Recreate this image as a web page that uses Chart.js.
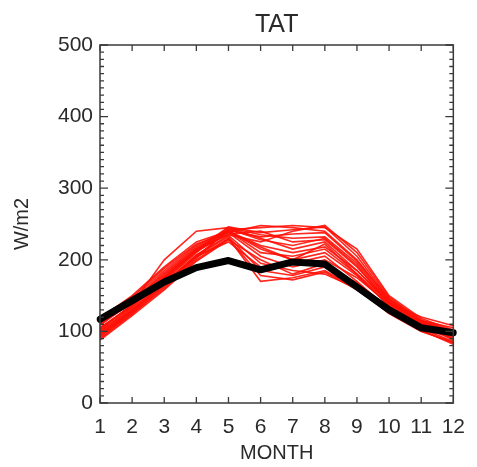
<!DOCTYPE html>
<html>
<head>
<meta charset="utf-8">
<script src="https://cdn.jsdelivr.net/npm/chart.js@4/dist/chart.umd.min.js"></script>
<style>
  html, body { margin: 0; padding: 0; background: #ffffff; }
  #wrap { width: 477px; height: 467px; }
</style>
</head>
<body>
<div id="wrap"><canvas id="c" width="477" height="467"></canvas></div>
<script>
// ---- data ----
const months = ['1','2','3','4','5','6','7','8','9','10','11','12'];
const yTickValues = [0, 100, 200, 300, 400, 500];
const chartTitle = 'TAT';
const xTitle = 'MONTH';
const yTitle = 'W/m2';

// ensemble mean (thick black)
const meanTAT = [117, 143, 169, 189, 199, 186, 197, 194, 162, 130, 105, 98];

// ensemble members (thin red)
const member01 = [95, 128, 165, 205, 240, 215, 200, 222, 180, 135, 108, 92];
const member02 = [100, 132, 170, 210, 245, 230, 215, 225, 185, 140, 110, 95];
const member03 = [105, 135, 172, 212, 238, 248, 245, 240, 200, 145, 112, 98];
const member04 = [110, 140, 178, 215, 235, 225, 240, 248, 210, 148, 115, 100];
const member05 = [92, 125, 160, 200, 230, 170, 175, 185, 160, 125, 100, 85];
const member06 = [98, 130, 168, 205, 225, 190, 195, 205, 170, 130, 105, 90];
const member07 = [112, 145, 185, 220, 242, 245, 248, 245, 215, 150, 118, 102];
const member08 = [88, 122, 158, 198, 228, 200, 180, 195, 165, 128, 102, 82];
const member09 = [102, 138, 200, 240, 245, 235, 230, 232, 195, 142, 112, 96];
const member10 = [108, 142, 182, 218, 240, 220, 210, 218, 185, 140, 113, 98];
const member11 = [115, 148, 188, 222, 238, 205, 190, 200, 175, 138, 115, 105];
const member12 = [95, 128, 166, 206, 232, 185, 178, 190, 168, 132, 108, 90];
const member13 = [100, 134, 174, 212, 236, 240, 225, 228, 190, 142, 112, 95];
const member14 = [118, 150, 190, 225, 240, 210, 205, 215, 180, 140, 120, 108];
const member15 = [90, 124, 162, 202, 243, 228, 220, 230, 192, 138, 110, 88];
const member16 = [105, 136, 175, 214, 246, 238, 242, 246, 205, 146, 116, 100];
const member17 = [97, 130, 167, 207, 234, 195, 185, 180, 160, 128, 104, 86];
const member18 = [110, 142, 180, 216, 239, 218, 200, 210, 178, 136, 112, 97];
const member19 = [93, 127, 164, 204, 229, 178, 172, 183, 158, 126, 101, 84];
const member20 = [103, 137, 176, 213, 241, 232, 236, 238, 198, 144, 114, 99];

const members = [member01, member02, member03, member04, member05, member06, member07,
  member08, member09, member10, member11, member12, member13, member14, member15,
  member16, member17, member18, member19, member20];

// ---- styles ----
const FONT = "'Liberation Sans', Arial, Helvetica, sans-serif";
const TEXT = '#2a2a2a';
const AXIS = '#3a3a3a';

const datasets = members.map((m, i) => ({
  label: 'member ' + (i + 1),
  data: m,
  borderColor: 'rgba(255, 15, 5, 0.9)',
  borderWidth: 1.6,
  pointRadius: 0,
  tension: 0,
  fill: false,
  order: 2
}));
datasets.push({
  label: 'mean',
  data: meanTAT,
  borderColor: '#000000',
  borderWidth: 7,
  pointRadius: 0,
  tension: 0,
  fill: false,
  borderJoinStyle: 'round',
  borderCapStyle: 'round',
  order: 1
});

// inward ticks + frame, in IDL style, positioned through the chart's scales
const frameTicks = {
  id: 'frameTicks',
  afterDraw(chart) {
    const { ctx, chartArea: a, scales } = chart;
    const xs = scales.x, ys = scales.y;
    ctx.save();
    ctx.strokeStyle = AXIS;
    ctx.lineWidth = 1.5;
    ctx.strokeRect(a.left, a.top, a.right - a.left, a.bottom - a.top);
    ctx.lineWidth = 1.3;
    ctx.beginPath();
    for (let i = 0; i < months.length; i++) {
      const px = xs.getPixelForValue(i);
      ctx.moveTo(px, a.bottom); ctx.lineTo(px, a.bottom - 6);
      ctx.moveTo(px, a.top); ctx.lineTo(px, a.top + 6);
    }
    const step = yTickValues[1] - yTickValues[0];
    const minorStep = step / 10;
    const yMax = yTickValues[yTickValues.length - 1];
    for (let v = yTickValues[0]; v <= yMax + 1e-6; v += minorStep) {
      const py = ys.getPixelForValue(v);
      const isMajor = Math.abs(v / step - Math.round(v / step)) < 1e-6;
      const len = isMajor ? 8 : 4;
      ctx.moveTo(a.left, py); ctx.lineTo(a.left + len, py);
      ctx.moveTo(a.right, py); ctx.lineTo(a.right - len, py);
    }
    ctx.stroke();
    ctx.restore();
  }
};

new Chart(document.getElementById('c'), {
  type: 'line',
  data: { labels: months, datasets },
  options: {
    responsive: false,
    animation: false,
    devicePixelRatio: 1,
    layout: { padding: { left: 0, right: 15, top: 0, bottom: 0 } },
    plugins: {
      legend: { display: false },
      tooltip: { enabled: false },
      title: {
        display: true,
        text: chartTitle,
        fullSize: false,
        color: TEXT,
        font: { family: FONT, size: 25, weight: 'normal', lineHeight: 1.2 },
        padding: { top: 10, bottom: 5 }
      }
    },
    scales: {
      x: {
        type: 'category',
        offset: false,
        grid: { display: false, drawTicks: false },
        border: { display: false },
        ticks: {
          color: TEXT,
          font: { family: FONT, size: 21 },
          padding: 12,
          autoSkip: false,
          maxRotation: 0
        },
        title: {
          display: true,
          text: xTitle,
          color: TEXT,
          font: { family: FONT, size: 20, lineHeight: 1.2 },
          padding: { top: 0, bottom: 2 }
        },
        afterFit(scale) { scale.height = 64; }
      },
      y: {
        min: 0,
        max: 500,
        grid: { display: false, drawTicks: false },
        border: { display: false },
        afterBuildTicks(scale) { scale.ticks = yTickValues.map(v => ({ value: v })); },
        ticks: {
          color: TEXT,
          font: { family: FONT, size: 21 },
          padding: 7
        },
        title: {
          display: true,
          text: yTitle,
          color: TEXT,
          font: { family: FONT, size: 20, lineHeight: 1.2 },
          padding: { top: 10, bottom: 0 }
        },
        afterFit(scale) { scale.width = 100; }
      }
    }
  },
  plugins: [frameTicks]
});
</script>
</body>
</html>
